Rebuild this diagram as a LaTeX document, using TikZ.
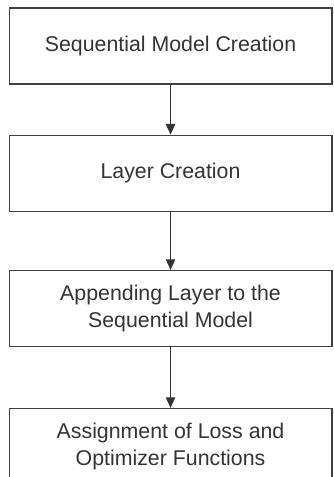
\documentclass[tikz,border=0pt]{standalone}
\usepackage{fontspec}
\setmainfont{Liberation Sans}
\usetikzlibrary{arrows.meta,positioning}

\begin{document}
\begin{tikzpicture}[
      stage/.style={draw=black!75, line width=1pt, align=center, text=black!80,
                    font=\fontsize{16}{20}\selectfont, inner sep=2pt,
                    minimum width=242pt, minimum height=57pt},
      ar/.style={-{Triangle[length=8pt,width=7pt]}, line width=1pt, draw=black!80}
    ]
    \useasboundingbox (0,0) rectangle (249.75pt,-357.75pt);
    \node[stage] (seq) at (127.9pt,-34.5pt) {Sequential Model Creation};
    \node[stage, below=37.5pt of seq]   (layer)  {Layer Creation};
    \node[stage, below=43.5pt of layer] (append) {Appending Layer to the\\Sequential Model};
    \node[stage, below=45.5pt of append] (loss)  {Assignment of Loss and\\Optimizer Functions};
    \draw[ar] (seq) -- (layer);
    \draw[ar] (layer) -- (append);
    \draw[ar] (append) -- (loss);
  \end{tikzpicture}
\end{document}
